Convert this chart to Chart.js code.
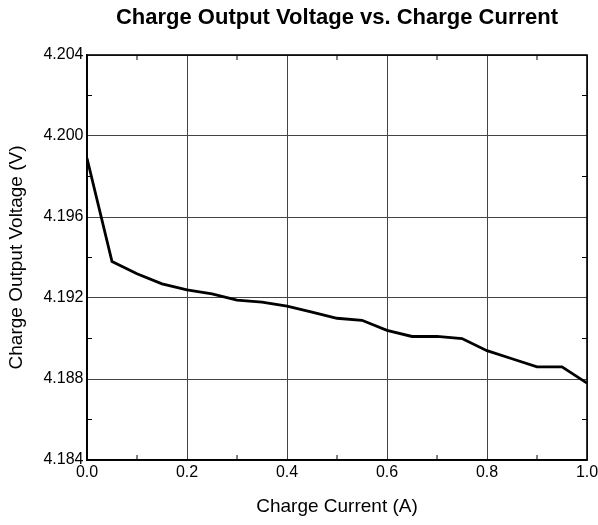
<!DOCTYPE html>
<html>
<head>
<meta charset="utf-8">
<script src="https://cdn.jsdelivr.net/npm/chart.js@4.4.1/dist/chart.umd.min.js"></script>
<style>
  html, body { margin: 0; padding: 0; background: #fff; }
  #wrap { width: 598px; height: 525px; }
</style>
</head>
<body>
<div id="wrap"><canvas id="myChart" width="598" height="525"></canvas></div>
<script>
var current = [0, 0.05, 0.1, 0.15, 0.2, 0.25, 0.3, 0.35, 0.4, 0.45, 0.5,
               0.55, 0.6, 0.65, 0.7, 0.75, 0.8, 0.85, 0.9, 0.95, 1.0];
var voltage = [4.1989, 4.1938, 4.1932, 4.1927, 4.1924, 4.1922, 4.1919, 4.1918, 4.1916, 4.1913, 4.1910,
               4.1909, 4.1904, 4.1901, 4.1901, 4.1900, 4.1894, 4.1890, 4.1886, 4.1886, 4.1878];
var xTicks = [0, 0.2, 0.4, 0.6, 0.8, 1.0];
var yTicks = [4.184, 4.188, 4.192, 4.196, 4.200, 4.204];
var xMinor = [0.1, 0.3, 0.5, 0.7, 0.9];
var yMinor = [4.186, 4.190, 4.194, 4.198, 4.202];

var fontName = '"Liberation Sans", Arial, sans-serif';

// Rahmen + kleine Striche nach innen
var boxPlugin = {
  id: 'box',
  afterDraw: function(c) {
    var ctx = c.ctx, a = c.chartArea;
    var xs = c.scales.x, ys = c.scales.y;
    ctx.save();
    ctx.strokeStyle = '#000';
    ctx.lineWidth = 1;
    ctx.beginPath();
    for (var i = 0; i < xMinor.length; i++) {
      var px = xs.getPixelForValue(xMinor[i]);
      ctx.moveTo(px, a.bottom); ctx.lineTo(px, a.bottom - 5);
      ctx.moveTo(px, a.top); ctx.lineTo(px, a.top + 5);
    }
    for (var j = 0; j < yMinor.length; j++) {
      var py = ys.getPixelForValue(yMinor[j]);
      ctx.moveTo(a.left, py); ctx.lineTo(a.left + 5, py);
      ctx.moveTo(a.right, py); ctx.lineTo(a.right - 5, py);
    }
    ctx.stroke();
    ctx.lineWidth = 1.6;
    ctx.strokeRect(a.left, a.top, a.right - a.left, a.bottom - a.top);
    ctx.restore();
  }
};

var ctx = document.getElementById('myChart').getContext('2d');
var chart = new Chart(ctx, {
  type: 'line',
  data: {
    datasets: [{
      data: current.map(function(x, i) { return {x: x, y: voltage[i]}; }),
      borderColor: '#000',
      borderWidth: 2.8,
      pointRadius: 0,
      tension: 0,
      fill: false
    }]
  },
  options: {
    responsive: false,
    animation: false,
    layout: { padding: 0 },
    plugins: {
      legend: { display: false },
      tooltip: { enabled: false }
    },
    scales: {
      // obere Achse nur fuer den Titel (zentriert ueber dem Plot)
      top: {
        type: 'linear', position: 'top',
        min: 0, max: 1,
        afterFit: function(s) { s.height = 55; s.paddingLeft = 0; s.paddingRight = 0; },
        ticks: { display: false },
        grid: { display: false },
        border: { display: false },
        title: {
          display: true,
          text: 'Charge Output Voltage vs. Charge Current',
          color: '#000',
          font: { family: fontName, size: 22, weight: 'bold' },
          padding: { top: 4.8, bottom: 0 }
        }
      },
      x: {
        type: 'linear',
        min: 0, max: 1,
        afterBuildTicks: function(s) { s.ticks = xTicks.map(function(v) { return {value: v}; }); },
        afterFit: function(s) { s.height = 65; s.paddingLeft = 0; s.paddingRight = 11; },
        ticks: {
          color: '#000', padding: 3, maxRotation: 0,
          font: { family: fontName, size: 16 },
          callback: function(v) { return v.toFixed(1); }
        },
        grid: { color: '#444', lineWidth: 1, drawTicks: false },
        border: { color: '#000', width: 1.6 },
        title: {
          display: true, text: 'Charge Current (A)', color: '#000',
          font: { family: fontName, size: 19 },
          padding: { top: 0, bottom: 6.6 }
        }
      },
      y: {
        type: 'linear',
        min: 4.184, max: 4.204,
        afterBuildTicks: function(s) { s.ticks = yTicks.map(function(v) { return {value: v}; }); },
        afterFit: function(s) { s.width = 87; },
        ticks: {
          color: '#000', padding: 3.5,
          font: { family: fontName, size: 16 },
          callback: function(v) { return v.toFixed(3); }
        },
        grid: { color: '#444', lineWidth: 1, drawTicks: false },
        border: { color: '#000', width: 1.6 },
        title: {
          display: true, text: 'Charge Output Voltage (V)', color: '#000',
          font: { family: fontName, size: 19 },
          padding: { top: 5.1, bottom: 0 }
        }
      }
    }
  },
  plugins: [boxPlugin]
});
</script>
</body>
</html>
